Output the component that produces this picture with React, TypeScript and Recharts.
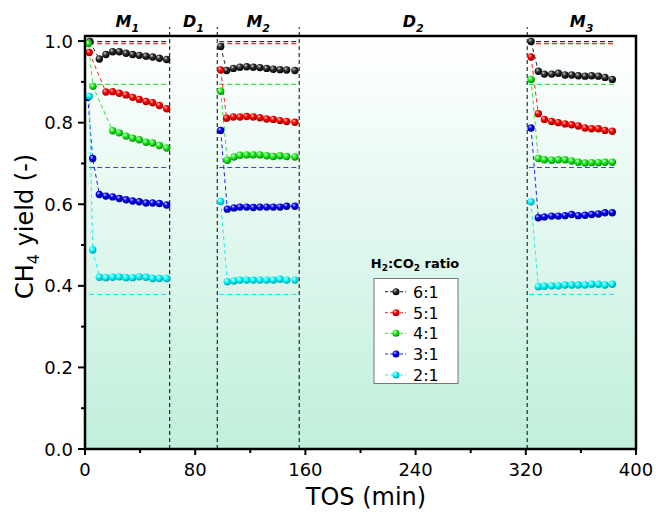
import React from 'react';
import { LineChart, Line, XAxis, YAxis, ReferenceLine, CartesianGrid } from 'recharts';

type Pt = [number, number];

// TOS (min), CH4 yield for each ratio, split by methanation period
const r6M1: Pt[] = [[3.5, 0.999], [10.4, 0.956], [15.2, 0.967], [20.1, 0.974], [24.9, 0.974], [29.8, 0.97], [34.6, 0.967], [39.4, 0.965], [44.3, 0.963], [49.1, 0.961], [54.0, 0.958], [59.3, 0.955]];
const r6M2: Pt[] = [[98.5, 0.987], [102.8, 0.928], [107.7, 0.933], [112.5, 0.936], [117.4, 0.937], [122.2, 0.936], [127.0, 0.935], [131.9, 0.933], [136.7, 0.931], [141.6, 0.93], [146.4, 0.929], [152.4, 0.928]];
const r6M3: Pt[] = [[323.8, 0.999], [329.1, 0.926], [333.5, 0.919], [338.8, 0.919], [343.6, 0.921], [348.5, 0.917], [353.3, 0.917], [358.1, 0.915], [363.0, 0.914], [367.8, 0.915], [372.7, 0.914], [377.5, 0.911], [382.8, 0.906]];

const r5M1: Pt[] = [[3.1, 0.972], [15.2, 0.875], [20.1, 0.876], [24.9, 0.872], [29.8, 0.868], [34.6, 0.862], [39.4, 0.857], [44.3, 0.852], [49.1, 0.849], [54.0, 0.842], [59.3, 0.834]];
const r5M2: Pt[] = [[98.5, 0.929], [102.8, 0.811], [107.7, 0.814], [112.5, 0.814], [117.4, 0.815], [122.2, 0.814], [127.0, 0.812], [131.9, 0.809], [136.7, 0.808], [141.6, 0.805], [146.4, 0.803], [152.4, 0.801]];
const r5M3: Pt[] = [[323.8, 0.961], [329.1, 0.822], [333.5, 0.808], [338.8, 0.803], [343.6, 0.8], [348.5, 0.797], [353.3, 0.795], [358.1, 0.792], [363.0, 0.787], [367.8, 0.785], [372.7, 0.785], [377.5, 0.781], [382.8, 0.779]];

const r4M1: Pt[] = [[2.5, 0.994], [5.8, 0.889], [20.1, 0.78], [24.9, 0.775], [29.8, 0.767], [34.6, 0.762], [39.4, 0.758], [44.3, 0.752], [49.1, 0.75], [54.0, 0.744], [59.3, 0.738]];
const r4M2: Pt[] = [[98.5, 0.877], [103.3, 0.708], [108.2, 0.716], [112.5, 0.72], [117.4, 0.721], [122.2, 0.721], [127.0, 0.721], [131.9, 0.719], [136.7, 0.717], [141.6, 0.719], [146.4, 0.717], [152.4, 0.716]];
const r4M3: Pt[] = [[323.8, 0.906], [329.1, 0.712], [333.5, 0.709], [338.8, 0.708], [343.6, 0.709], [348.5, 0.709], [353.3, 0.706], [358.1, 0.703], [363.0, 0.701], [367.8, 0.702], [372.7, 0.702], [377.5, 0.703], [382.8, 0.703]];

const r3M1: Pt[] = [[2.0, 0.862], [5.6, 0.712], [10.4, 0.624], [15.2, 0.62], [20.1, 0.618], [24.9, 0.614], [29.8, 0.611], [34.6, 0.608], [39.4, 0.606], [44.3, 0.603], [49.1, 0.603], [54.0, 0.602], [59.3, 0.598]];
const r3M2: Pt[] = [[98.5, 0.781], [103.3, 0.588], [108.2, 0.591], [112.5, 0.593], [117.4, 0.593], [122.2, 0.592], [127.0, 0.593], [131.9, 0.593], [136.7, 0.593], [141.6, 0.593], [146.4, 0.595], [152.4, 0.595]];
const r3M3: Pt[] = [[323.8, 0.787], [329.1, 0.567], [333.5, 0.569], [338.8, 0.571], [343.6, 0.571], [348.5, 0.572], [353.3, 0.575], [358.1, 0.572], [363.0, 0.573], [367.8, 0.575], [372.7, 0.576], [377.5, 0.579], [382.8, 0.579]];

const r2M1: Pt[] = [[3.1, 0.865], [5.6, 0.488], [10.4, 0.421], [15.2, 0.42], [20.1, 0.421], [24.9, 0.422], [29.8, 0.42], [34.6, 0.42], [39.4, 0.422], [44.3, 0.421], [49.1, 0.418], [54.0, 0.418], [59.3, 0.418]];
const r2M2: Pt[] = [[98.5, 0.607], [103.3, 0.41], [108.2, 0.412], [112.5, 0.414], [117.4, 0.414], [122.2, 0.414], [127.0, 0.414], [131.9, 0.414], [136.7, 0.414], [141.6, 0.416], [146.4, 0.414], [152.4, 0.414]];
const r2M3: Pt[] = [[323.8, 0.606], [329.1, 0.398], [333.5, 0.399], [338.8, 0.4], [343.6, 0.4], [348.5, 0.402], [353.3, 0.402], [358.1, 0.402], [363.0, 0.402], [367.8, 0.404], [372.7, 0.404], [377.5, 0.402], [382.8, 0.404]];

const ratios = ['6:1', '5:1', '4:1', '3:1', '2:1'];
const seriesSegments: Pt[][][] = [
  [r6M1, r6M2, r6M3],
  [r5M1, r5M2, r5M3],
  [r4M1, r4M2, r4M3],
  [r3M1, r3M2, r3M3],
  [r2M1, r2M2, r2M3],
];
const lineColors = ['#222222', '#ff2020', '#33dd33', '#2020ee', '#22eeee'];
const eqColors = ['#000000', '#ee0000', '#00e000', '#3838ff', '#00eeee'];
// shading of the ball markers: highlight, body, rim
const ballShades = [
  ['#d0d0d0', '#303030', '#000000'],
  ['#ffd0d0', '#ff0000', '#a00000'],
  ['#e0ffe0', '#22ee22', '#009000'],
  ['#c8c8ff', '#0000ff', '#000080'],
  ['#f0ffff', '#00ffff', '#00a0b0'],
];

// equilibrium yields (dashed) and the spans they cover
const eqValues = [0.9985, 0.9935, 0.894, 0.69, 0.379];
const eqSpansTop: Pt[] = [[3, 61.5], [97.5, 154.6], [327.4, 384.8]];
const eqSpansLow: Pt[] = [[3, 61.5], [97.5, 154.6], [322.3, 384.8]];

const phaseBounds = [61.5, 96, 155.5, 321];
const phaseNames = ['M', 'D', 'M', 'D', 'M'];
const phaseSubs = ['1', '1', '2', '2', '3'];

const xTicks = [0, 40, 80, 120, 160, 200, 240, 280, 320, 360, 400];
const yTicks = [0, 0.1, 0.2, 0.3, 0.4, 0.5, 0.6, 0.7, 0.8, 0.9, 1.0];
const X_MAX = 400;
const Y_MAX = 1.01;

const FONT = '"DejaVu Sans", Verdana, sans-serif';

const toRows = (segs: Pt[][]) => {
  const rows: { t: number; v: number | null }[] = [];
  segs.forEach((seg, i) => {
    if (i > 0) rows.push({ t: (segs[i - 1][segs[i - 1].length - 1][0] + seg[0][0]) / 2, v: null });
    seg.forEach(([t, v]) => rows.push({ t, v }));
  });
  return rows;
};

const edges = [0, ...phaseBounds, X_MAX];
const phaseMid = phaseNames.map((_, i) => (edges[i] + edges[i + 1]) / 2);

const makeBall = (i: number) => (props: any) => {
  const { cx, cy, index, payload } = props;
  if (payload == null || payload.v == null || cx == null || cy == null) return <g key={index} />;
  return <circle key={index} cx={cx} cy={cy} r={3.7} fill={`url(#ball${i})`} />;
};

const BottomTick = (props: any) => {
  const { x, y, payload } = props;
  const major = payload.value % 80 === 0;
  return (
    <g>
      <line x1={x} x2={x} y1={y} y2={y + (major ? 6 : 4)} stroke="#000" strokeWidth={2} />
      {major && (
        <text x={x} y={y + 27} textAnchor="middle" fontSize={18} fontFamily={FONT} fill="#000">
          {payload.value}
        </text>
      )}
    </g>
  );
};

const LeftTick = (props: any) => {
  const { x, y, payload } = props;
  const major = Math.round(payload.value * 10) % 2 === 0;
  return (
    <g>
      <line x1={x - (major ? 7 : 4)} x2={x} y1={y} y2={y} stroke="#000" strokeWidth={2} />
      {major && (
        <text x={x - 12} y={y + 6.5} textAnchor="end" fontSize={18} fontFamily={FONT} fill="#000">
          {payload.value.toFixed(1)}
        </text>
      )}
    </g>
  );
};

const TopTick = (props: any) => {
  const { x, index } = props;
  return (
    <text x={x} y={27} textAnchor="middle" fontSize={16} fontWeight="bold" fontStyle="italic" fontFamily={FONT} fill="#000">
      {phaseNames[index]}
      <tspan dy={5} fontSize={11}>{phaseSubs[index]}</tspan>
    </text>
  );
};

const YLabel = () => (
  <text x={33} y={299} transform="rotate(-90 33 299)" textAnchor="start" fontSize={24} fontFamily={FONT} fill="#000">
    CH<tspan dy={6} fontSize={16}>4</tspan>
    <tspan dy={-6}> yield (-)</tspan>
  </text>
);

const XLabel = () => (
  <text x={366} y={505} textAnchor="middle" fontSize={24} fontFamily={FONT} fill="#000">
    TOS (min)
  </text>
);

const legendRows = [291.7, 312.7, 333.3, 354, 375];

// legend box and the top/right edges of the plot frame
const Overlay = () => (
  <svg width={656} height={512} style={{ position: 'absolute', left: 0, top: 0, pointerEvents: 'none' }}>
    <rect x={85} y={36} width={551} height={413} fill="none" stroke="#000" strokeWidth={2.5} />
    <text x={415} y={268} textAnchor="middle" fontSize={13} fontWeight="bold" fontFamily={FONT} fill="#000">
      H<tspan dy={3} fontSize={9}>2</tspan>
      <tspan dy={-3}>:CO</tspan>
      <tspan dy={3} fontSize={9}>2</tspan>
      <tspan dy={-3}> ratio</tspan>
    </text>
    <rect x={374} y={278.5} width={84} height={105} fill="#fff" stroke="#777" strokeWidth={1} />
    {ratios.map((r, i) => (
      <g key={r}>
        <line x1={385} x2={406} y1={legendRows[i]} y2={legendRows[i]} stroke={lineColors[i]} strokeDasharray="3 2" />
        <circle cx={396} cy={legendRows[i]} r={3.5} fill={`url(#ball${i})`} />
        <text x={413} y={legendRows[i] + 6} fontSize={16} fontFamily={FONT} fill="#000">
          {r}
        </text>
      </g>
    ))}
  </svg>
);

const App: React.FC = () => {
  const seriesRows = seriesSegments.map(toRows);
  const eqRows = eqValues.map((v, i) =>
    toRows((i < 2 ? eqSpansTop : eqSpansLow).map(([a, b]) => [[a, v], [b, v]] as Pt[]))
  );

  return (
    <div style={{ position: 'absolute', left: 0, top: 0, width: 656, height: 512, background: '#fff' }}>
      <LineChart width={656} height={512} margin={{ top: 0, right: 0, bottom: 0, left: 0 }}>
        <defs>
          <linearGradient id="bgGrad" x1="0" y1="0" x2="0" y2="1">
            <stop offset="0%" stopColor="#ffffff" />
            <stop offset="100%" stopColor="#c0efdb" />
          </linearGradient>
          {ballShades.map((s, i) => (
            <radialGradient key={i} id={`ball${i}`} cx="40%" cy="40%" r="60%" fx="35%" fy="30%">
              <stop offset="0%" stopColor={s[0]} />
              <stop offset="45%" stopColor={s[1]} />
              <stop offset="100%" stopColor={s[2]} />
            </radialGradient>
          ))}
        </defs>
        <CartesianGrid horizontal={false} vertical={false} fill="url(#bgGrad)" stroke="none" />
        <XAxis
          dataKey="t"
          type="number"
          domain={[0, X_MAX]}
          ticks={xTicks}
          interval={0}
          height={63}
          tickSize={0}
          tickMargin={0}
          tickLine={false}
          tick={<BottomTick />}
          axisLine={{ stroke: '#000', strokeWidth: 2 }}
          allowDataOverflow
          label={<XLabel />}
        />
        <XAxis
          xAxisId="top"
          orientation="top"
          dataKey="t"
          type="number"
          domain={[0, X_MAX]}
          ticks={phaseMid}
          interval={0}
          height={37}
          tickSize={0}
          tickMargin={0}
          tickLine={false}
          tick={<TopTick />}
          axisLine={false}
          allowDataOverflow
        />
        <YAxis
          type="number"
          domain={[0, Y_MAX]}
          ticks={yTicks}
          interval={0}
          width={85}
          tickSize={0}
          tickMargin={0}
          tickLine={false}
          tick={<LeftTick />}
          axisLine={{ stroke: '#000', strokeWidth: 2 }}
          allowDataOverflow
          label={<YLabel />}
        />
        <YAxis
          yAxisId="right"
          orientation="right"
          type="number"
          domain={[0, Y_MAX]}
          width={20}
          tick={false}
          tickLine={false}
          axisLine={false}
          allowDataOverflow
        />
        {phaseBounds.map((b) => (
          <ReferenceLine
            key={b}
            segment={[{ x: b, y: 0 }, { x: b, y: 1.034 }]}
            ifOverflow="visible"
            stroke="#000"
            strokeDasharray="4 3"
            strokeWidth={1}
          />
        ))}
        {/* invisible series so the top label axis is drawn */}
        <Line
          xAxisId="top"
          yAxisId="right"
          data={eqRows[0]}
          dataKey="v"
          stroke="none"
          dot={false}
          activeDot={false}
          legendType="none"
          isAnimationActive={false}
        />
        {eqRows.map((rows, i) => (
          <Line
            key={`eq${i}`}
            data={rows}
            dataKey="v"
            stroke={eqColors[i]}
            strokeWidth={1}
            strokeDasharray="5 3"
            dot={false}
            activeDot={false}
            isAnimationActive={false}
            type="linear"
          />
        ))}
        {seriesRows.map((rows, i) => (
          <Line
            key={ratios[i]}
            name={ratios[i]}
            data={rows}
            dataKey="v"
            stroke={lineColors[i]}
            strokeWidth={1}
            strokeDasharray="4 3"
            dot={makeBall(i)}
            activeDot={false}
            isAnimationActive={false}
            type="linear"
          />
        ))}
      </LineChart>
      <Overlay />
    </div>
  );
};

export default App;
